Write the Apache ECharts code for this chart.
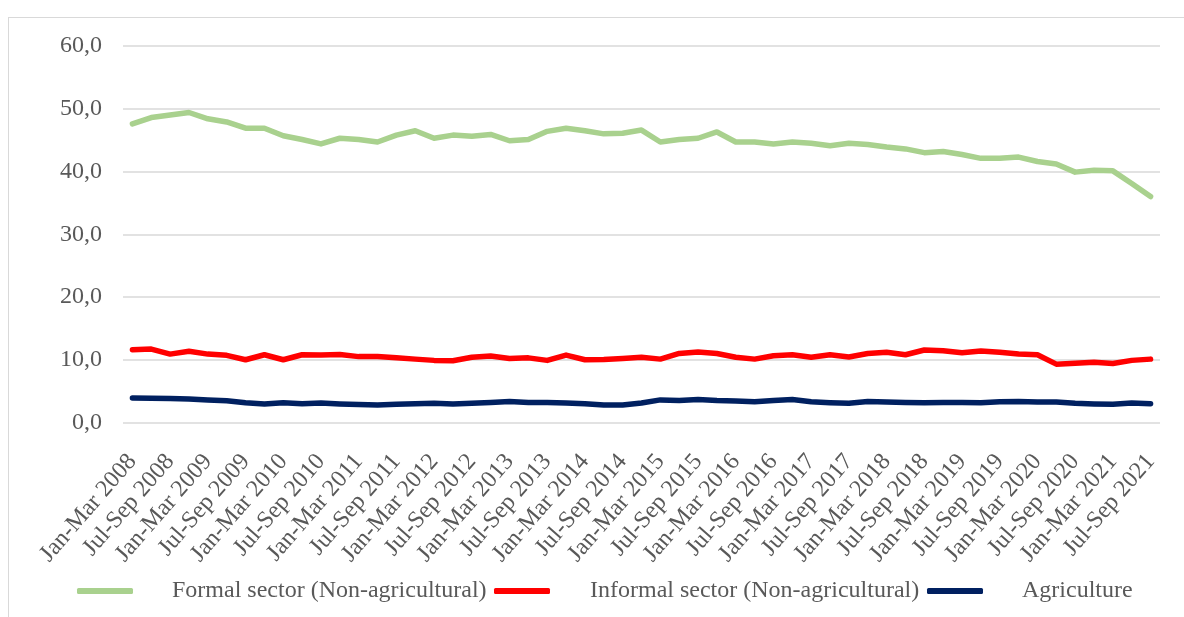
<!DOCTYPE html>
<html>
<head>
<meta charset="utf-8">
<script src="https://cdn.jsdelivr.net/npm/echarts@6/dist/echarts.min.js"></script>
<style>
  html, body { margin: 0; padding: 0; width: 1184px; height: 617px; overflow: hidden; background: #fff; }
  #frame { position: absolute; left: 8px; top: 17px; width: 1300px; height: 700px; border: 1px solid #d9d9d9; }
  #chart { position: absolute; left: 0; top: 0; width: 1184px; height: 617px; }
</style>
</head>
<body>
<div id="frame"></div>
<div id="chart"></div>
<script>
// Quarterly periods, Jan-Mar 2008 to Jul-Sep 2021
const quarterNames = ['Jan-Mar', 'Apr-Jun', 'Jul-Sep', 'Oct-Dec'];
const categories = [];
for (let y = 2008; y <= 2021; y++) {
  for (let q = 0; q < 4; q++) {
    if (y === 2021 && q === 3) break;
    categories.push(quarterNames[q] + ' ' + y);
  }
}

const formalSector = [
  47.6, 48.6, 49.0, 49.4, 48.4, 47.9, 46.9, 46.9, 45.7, 45.1,
  44.4, 45.3, 45.1, 44.7, 45.8, 46.5, 45.3, 45.8, 45.6, 45.9,
  44.9, 45.1, 46.4, 46.9, 46.5, 46.0, 46.1, 46.6, 44.7, 45.1,
  45.3, 46.3, 44.7, 44.7, 44.4, 44.7, 44.5, 44.1, 44.5, 44.3,
  43.9, 43.6, 43.0, 43.2, 42.7, 42.1, 42.1, 42.3, 41.6, 41.2,
  39.9, 40.2, 40.1, 38.1, 36.0
];

const informalSector = [
  11.6, 11.7, 10.9, 11.35, 10.9, 10.7, 10.0, 10.8, 10.0, 10.8,
  10.75, 10.85, 10.5, 10.5, 10.3, 10.1, 9.9, 9.85, 10.4, 10.6,
  10.2, 10.3, 9.9, 10.75, 10.0, 10.05, 10.2, 10.4, 10.1, 11.0,
  11.25, 11.0, 10.4, 10.1, 10.65, 10.8, 10.4, 10.8, 10.45, 11.0,
  11.2, 10.8, 11.55, 11.45, 11.1, 11.4, 11.2, 10.9, 10.8, 9.3,
  9.45, 9.6, 9.4, 9.9, 10.1
];

const agriculture = [
  3.9, 3.88, 3.82, 3.75, 3.6, 3.45, 3.15, 2.95, 3.15, 3.0,
  3.1, 2.95, 2.85, 2.78, 2.92, 3.0, 3.05, 2.95, 3.05, 3.2,
  3.35, 3.2, 3.2, 3.1, 3.0, 2.78, 2.8, 3.1, 3.6, 3.5,
  3.65, 3.5, 3.43, 3.3, 3.5, 3.65, 3.3, 3.15, 3.05, 3.35,
  3.25, 3.2, 3.15, 3.2, 3.2, 3.15, 3.3, 3.35, 3.25, 3.25,
  3.05, 2.95, 2.9, 3.1, 3.0
];

const yTicks = { min: 0, max: 60, interval: 10 };

const seriesNames = [
  'Formal sector (Non-agricultural)',
  'Informal sector (Non-agricultural)',
  'Agriculture'
];
const seriesColors = ['#A9D18E', '#FF0000', '#002060'];
const seriesData = [formalSector, informalSector, agriculture];

const fontFamily = '"Liberation Serif", "Times New Roman", serif';

// one legend entry per component so each can sit at its own spot
function makeLegend(idx, left, textGap) {
  return {
    data: [seriesNames[idx]],
    left: left,
    top: 579,
    padding: 0,
    icon: 'roundRect',
    itemWidth: 56,
    itemHeight: 6,
    itemStyle: { color: seriesColors[idx] },
    textStyle: {
      fontFamily: fontFamily,
      fontSize: 24,
      color: '#595959',
      padding: [0, 0, 0, textGap]
    }
  };
}

const chart = echarts.init(document.getElementById('chart'), null, { renderer: 'canvas' });
chart.setOption({
  animation: false,
  backgroundColor: 'transparent',
  grid: { left: 123, right: 24, top: 46, bottom: 194.5, containLabel: false },
  xAxis: {
    type: 'category',
    data: categories,
    boundaryGap: true,
    axisLine: { show: false },
    axisTick: { show: false },
    axisLabel: {
      interval: 1,
      rotate: 49,
      margin: 35,
      fontFamily: fontFamily,
      fontSize: 24,
      color: '#595959'
    }
  },
  yAxis: {
    type: 'value',
    min: yTicks.min,
    max: yTicks.max,
    interval: yTicks.interval,
    axisLine: { show: false },
    axisTick: { show: false },
    splitLine: { lineStyle: { color: '#d9d9d9', width: 1.5 } },
    axisLabel: {
      margin: 21,
      fontFamily: fontFamily,
      fontSize: 24,
      color: '#595959',
      formatter: v => v.toFixed(1).replace('.', ',')
    }
  },
  legend: [
    makeLegend(0, 77, 34),
    makeLegend(1, 494, 35),
    makeLegend(2, 927, 34)
  ],
  series: seriesData.map((d, i) => ({
    name: seriesNames[i],
    type: 'line',
    data: d,
    symbol: 'none',
    lineStyle: { color: seriesColors[i], width: 5.5, cap: 'round', join: 'round' },
    itemStyle: { color: seriesColors[i] }
  }))
});
</script>
</body>
</html>
